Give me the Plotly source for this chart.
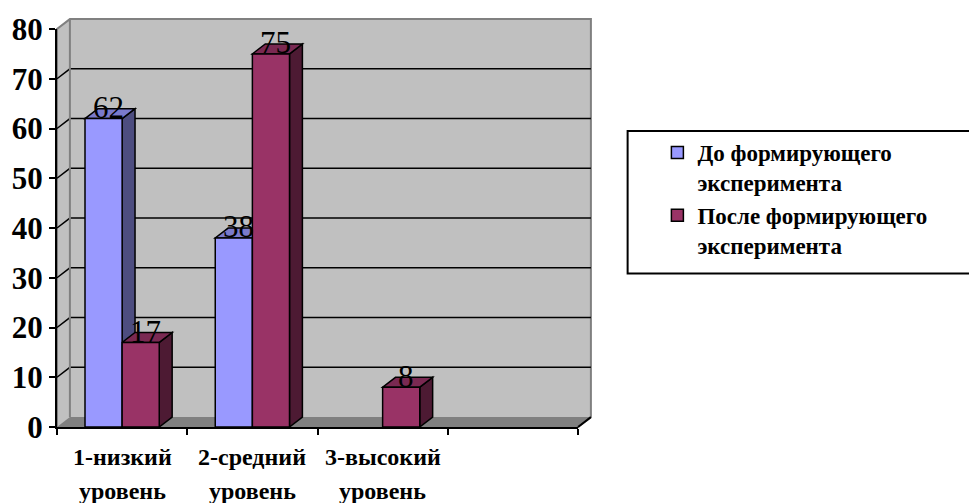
import plotly.graph_objects as go

# ---------------- data ----------------
categories = ["1-низкий уровень", "2-средний уровень", "3-высокий уровень"]
series_names = ["До формирующего<br>эксперимента", "После формирующего<br>эксперимента"]
before_values = [62, 38, 0]
after_values = [17, 75, 8]
y_ticks = [0, 10, 20, 30, 40, 50, 60, 70, 80]

# ---------------- styling ----------------
W, H = 969, 503
L, R, T, B = 53, 578, 25, 427          # front plot area in px
N_SLOTS = 4                             # axis has 4 category slots (last empty)
XR = [-0.5, N_SLOTS - 0.5]
YR = [0, 80]
plot_w, plot_h = R - L, B - T
ppx = plot_w / (XR[1] - XR[0])
ppy = plot_h / (YR[1] - YR[0])
DX = 13 / ppx                           # 3-D depth in data units
DY = 10 / ppy
BARGAP = 0.43
BW = (1 - BARGAP) / 2                   # single bar width (data units)

FONT = "Liberation Serif, DejaVu Serif, Noto Serif, serif"
face = {"front": ["#9999FF", "#993366"],
        "side": ["#4D4D80", "#4D1A33"],
        "top": ["#7A7ACC", "#7A2952"]}


def P(xd, yd):
    return ((xd - XR[0]) / (XR[1] - XR[0]), (yd - YR[0]) / (YR[1] - YR[0]))


def path_paper(pts, close=True):
    s = ""
    for i, (x, y) in enumerate(pts):
        px, py = P(x, y)
        s += ("M" if i == 0 else "L") + f"{px:.5f},{py:.5f} "
    return s + ("Z" if close else "")


def path_data(pts):
    s = ""
    for i, (x, y) in enumerate(pts):
        s += ("M" if i == 0 else "L") + f"{x:.5f},{y:.5f} "
    return s + "Z"


x_idx = list(range(len(categories)))
fig = go.Figure()
all_vals = [before_values, after_values]
for s, vals in enumerate(all_vals):
    fig.add_trace(go.Bar(
        x=x_idx, y=[v if v else None for v in vals], name=series_names[s],
        marker=dict(color=face["front"][s], line=dict(color="black", width=1.5)),
        hoverinfo="skip"))

shapes = []
x0, x1 = XR
# back + side wall
shapes.append(dict(type="path", xref="paper", yref="paper", layer="below",
                   path=path_paper([(x0, 0), (x0, YR[1]), (x0 + DX, YR[1] + DY),
                                    (x1 + DX, YR[1] + DY), (x1 + DX, DY), (x1, 0)]),
                   fillcolor="#C0C0C0", line=dict(color="#808080", width=2)))
# gridlines
for v in y_ticks[1:-1]:
    shapes.append(dict(type="path", xref="paper", yref="paper", layer="below",
                       path=path_paper([(x0, v), (x0 + DX, v + DY), (x1 + DX, v + DY)], close=False),
                       line=dict(color="black", width=1.5)))
# back-left corner edge
shapes.append(dict(type="path", xref="paper", yref="paper", layer="below",
                   path=path_paper([(x0 + DX, DY), (x0 + DX, YR[1] + DY)], close=False),
                   line=dict(color="#808080", width=2)))
# floor
shapes.append(dict(type="path", xref="paper", yref="paper", layer="below",
                   path=path_paper([(x0, 0), (x0 + DX, DY), (x1 + DX, DY), (x1, 0)]),
                   fillcolor="#808080", line=dict(width=0)))
shapes.append(dict(type="path", xref="paper", yref="paper", layer="below",
                   path=path_paper([(x1, 0), (x1 + DX, DY)], close=False),
                   line=dict(color="black", width=2)))

annotations = []
for s, vals in enumerate(all_vals):
    off = (s - 0.5) * BW
    for i, v in enumerate(vals):
        if not v:
            continue
        xl = i + off - BW / 2
        xr = i + off + BW / 2
        shapes.append(dict(type="path", xref="x", yref="y", layer="between",
                           path=path_data([(xr, 0), (xr + DX, DY), (xr + DX, v + DY), (xr, v)]),
                           fillcolor=face["side"][s], line=dict(color="black", width=1.5)))
        shapes.append(dict(type="path", xref="x", yref="y", layer="between",
                           path=path_data([(xl, v), (xr, v), (xr + DX, v + DY), (xl + DX, v + DY)]),
                           fillcolor=face["top"][s], line=dict(color="black", width=1.5)))
        annotations.append(dict(x=i + off, y=v, xref="x", yref="y", text=str(v),
                                showarrow=False, xshift=5, yshift=11,
                                font=dict(family=FONT, size=31, color="black")))

# category labels (two lines)
for i, c in enumerate(categories):
    w1, w2 = c.split(" ", 1)
    for line_txt, ypx in ((w1, 457), (w2, 492)):
        annotations.append(dict(x=i, y=(B - ypx) / plot_h, xref="x", yref="paper",
                                text=line_txt, showarrow=False,
                                yanchor="middle", xanchor="center",
                                font=dict(family=FONT, size=24, color="black", weight="bold")))

# legend frame
shapes.append(dict(type="rect", xref="paper", yref="paper", layer="above",
                   x0=(628 - L) / plot_w, x1=(980 - L) / plot_w,
                   y0=(B - 128) / plot_h, y1=(B - 272) / plot_h,
                   line=dict(color="black", width=2), fillcolor="rgba(0,0,0,0)"))

fig.update_layout(
    width=W, height=H,
    margin=dict(l=L, r=W - R, t=T, b=H - B, pad=0),
    paper_bgcolor="white", plot_bgcolor="rgba(0,0,0,0)",
    barmode="group", bargap=BARGAP, bargroupgap=0,
    showlegend=True,
    legend=dict(x=(658 - L) / plot_w, xanchor="left",
                y=(B - 128) / plot_h, yanchor="top",
                bgcolor="rgba(0,0,0,0)", borderwidth=0, valign="top",
                font=dict(family=FONT, size=23, color="black", weight="bold"),
                tracegroupgap=0, itemclick=False),
    shapes=shapes, annotations=annotations,
    xaxis=dict(range=XR, tickvals=[k - 0.5 for k in range(N_SLOTS + 1)],
               ticktext=["" for _ in range(N_SLOTS + 1)], ticks="outside",
               ticklen=6, tickwidth=2, tickcolor="black",
               showline=True, linecolor="black", linewidth=2,
               showgrid=False, zeroline=False, fixedrange=True),
    yaxis=dict(range=YR, tickvals=y_ticks,
               ticks="outside", ticklen=6, tickwidth=2, tickcolor="black",
               showline=True, linecolor="black", linewidth=2,
               showgrid=False, zeroline=False, fixedrange=True,
               tickfont=dict(family=FONT, size=31, color="black", weight="bold")),
    font=dict(family=FONT, color="black"),
)

fig.write_html("out.html")
